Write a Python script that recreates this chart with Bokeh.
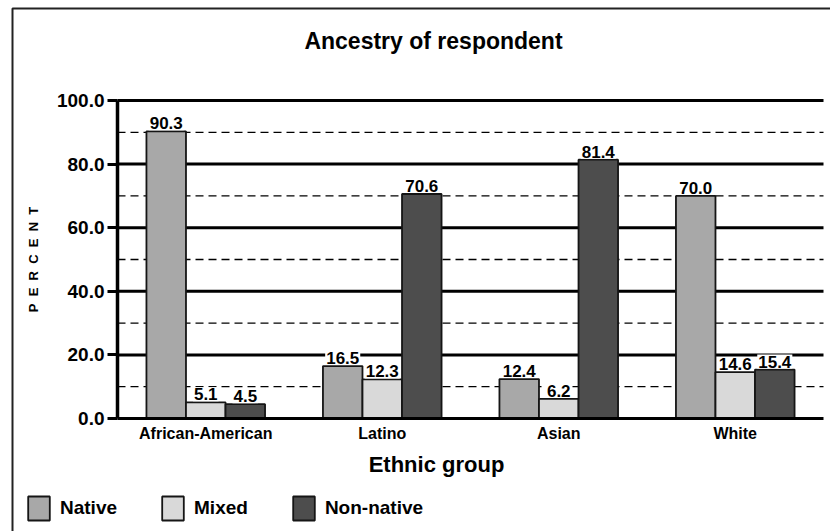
from bokeh.plotting import figure
from bokeh.models import (FixedTicker, PrintfTickFormatter, Label, LinearAxis,
                          Legend, LegendItem, ColumnDataSource, BoxAnnotation, Range1d)
from bokeh.core.properties import value
from bokeh.embed import file_html
from bokeh.resources import INLINE

categories = ["African-American", "Latino", "Asian", "White"]
series_names = ["Native", "Mixed", "Non-native"]
native = [90.3, 16.5, 12.4, 70.0]
mixed = [5.1, 12.3, 6.2, 14.6]
non_native = [4.5, 70.6, 81.4, 15.4]
y_ticks = [0, 20, 40, 60, 80, 100]
y_minor = [10, 30, 50, 70, 90]

FONT = "Liberation Sans"
colors = ["#a8a8a8", "#d9d9d9", "#4d4d4d"]
bw = 0.224

# canvas geometry (pixels)
W, H = 830, 531
PL, PR, PT, PB = 117, 823, 100, 418     # plot area inside canvas
n = len(categories)
xpx = (PR - PL) / n
ypx = (PB - PT) / 100.0
x_range = Range1d(-PL / xpx, n + (W - PR) / xpx)
y_range = Range1d(-(H - PB) / ypx, 100 + PT / ypx)

def px_x(sx):
    return (sx - PL) / xpx

def px_y(sy):
    return (PB - sy) / ypx

p = figure(x_range=x_range, y_range=y_range, width=W, height=H,
           output_backend="svg", toolbar_location=None, x_axis_type=None, y_axis_type=None,
           min_border=0, min_border_left=0, min_border_right=0, min_border_top=0,
           min_border_bottom=0)
p.outline_line_color = None
p.xgrid.visible = False
p.ygrid.visible = False

# horizontal reference lines across the plot area
p.segment(x0=0, x1=n, y0=y_ticks[1:], y1=y_ticks[1:], line_color="black", line_width=3)
p.segment(x0=0, x1=n, y0=y_minor, y1=y_minor, line_color="black", line_width=1.3,
          line_dash="8 5")

centers = [i + 0.5 for i in range(n)]
series = [native, mixed, non_native]
items = []
for i, (vals, name) in enumerate(zip(series, series_names)):
    off = (i - 1) * bw
    src = ColumnDataSource(dict(x=[c + off for c in centers], top=vals,
                                lab=["%.1f" % v for v in vals]))
    r = p.vbar(x="x", top="top", width=bw, source=src,
               fill_color=colors[i], line_color="#151515", line_width=1.8)
    items.append(LegendItem(label=name, renderers=[r]))
    p.text(x="x", y="top", text="lab", source=src,
           text_font=value(FONT), text_font_style="bold", text_font_size="17px",
           text_color="black", text_align="center", text_baseline="bottom", y_offset=-1,
           background_fill_color="white", padding=1)

ax = LinearAxis(fixed_location=0, bounds=(0, 100))
ax.ticker = FixedTicker(ticks=y_ticks)
ax.formatter = PrintfTickFormatter(format="%.1f")
ax.major_tick_out = 10
ax.major_tick_in = 0
ax.minor_tick_out = 0
ax.minor_tick_in = 0
ax.major_tick_line_width = 3
ax.axis_line_width = 3.5
ax.major_label_text_font = FONT
ax.major_label_text_font_style = "bold"
ax.major_label_text_font_size = "19px"
ax.major_label_text_color = "black"
ax.major_label_standoff = 3
ax.axis_label = "P\u00a0\u00a0E\u00a0\u00a0R\u00a0\u00a0C\u00a0\u00a0E\u00a0\u00a0N\u00a0\u00a0T"
ax.axis_label_text_font = FONT
ax.axis_label_text_font_style = "bold"
ax.axis_label_text_font_size = "13px"
ax.axis_label_text_color = "black"
ax.axis_label_standoff = 13
p.add_layout(ax, "left")

xa = LinearAxis(fixed_location=0, bounds=(0, n))
xa.ticker = FixedTicker(ticks=centers)
xa.major_label_overrides = {c: cat for c, cat in zip(centers, categories)}
xa.major_tick_out = 0
xa.major_tick_in = 0
xa.minor_tick_out = 0
xa.minor_tick_in = 0
xa.axis_line_width = 3
xa.major_label_text_font = FONT
xa.major_label_text_font_style = "bold"
xa.major_label_text_font_size = "16px"
xa.major_label_text_color = "black"
xa.major_label_standoff = 6
p.add_layout(xa, "below")

title = Label(x=px_x(433), y=px_y(40), text="Ancestry of respondent",
              text_font=FONT, text_font_style="bold", text_font_size="23px",
              text_color="black", text_align="center", text_baseline="alphabetic")
p.add_layout(title)
xt = Label(x=px_x(436), y=px_y(464), text="Ethnic group",
           text_font=FONT, text_font_style="bold", text_font_size="22px",
           text_color="black", text_align="center", text_baseline="alphabetic")
p.add_layout(xt)

border = BoxAnnotation(left=px_x(12), right=n + 1, top=px_y(8), bottom=px_y(H + 50),
                       fill_alpha=0, line_color="#222222", line_alpha=1, line_width=2)
p.add_layout(border)

legend = Legend(items=items, orientation="horizontal", location=(25, 8),
                glyph_width=27, glyph_height=30, label_standoff=8, spacing=42,
                padding=0, margin=0, border_line_color=None, background_fill_alpha=0,
                label_text_font=FONT, label_text_font_style="bold", label_text_font_size="19px",
                label_text_color="black")
p.add_layout(legend)

open("out.html", "w").write(file_html(p, INLINE))
